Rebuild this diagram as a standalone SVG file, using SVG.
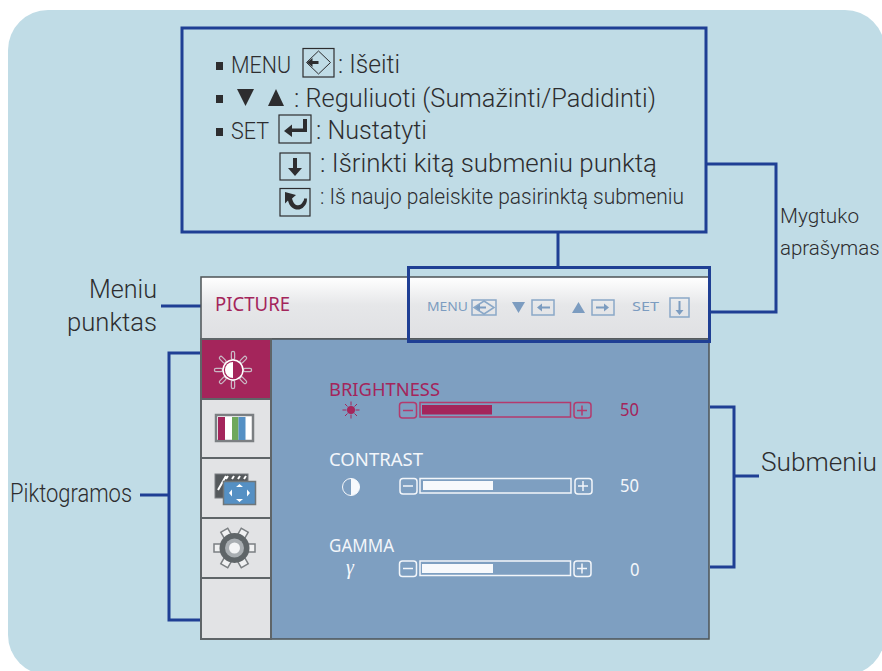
<svg xmlns="http://www.w3.org/2000/svg" width="882" height="671" viewBox="0 0 882 671">
<style>
text{font-family:Roboto,"Liberation Sans",Arial,sans-serif;font-weight:300}
.osdt{font-family:"Noto Sans","DejaVu Sans",sans-serif;font-weight:400}
.ink{fill:#2d2d2f}
.lb{fill:none;stroke:#1f3f94;stroke-width:3}
.key{fill:none;stroke:#2d2d2f;stroke-width:1.2}
.cell{fill:#e2e3e5;stroke:#5f6568;stroke-width:2}
.w{fill:#f7f9fc}.r{fill:#a4255b}
.ws{stroke:#f3f6fa;fill:none;stroke-width:1.5}
.rs{stroke:#b43a6d;fill:none;stroke-width:1.5}
.bk{fill:none;stroke:#8aa8c8;stroke-width:1.500}
</style>
<defs>
<linearGradient id="hd" x1="0" y1="0" x2="0" y2="1"><stop offset="0" stop-color="#ffffff"/><stop offset=".45" stop-color="#e6e7e9"/><stop offset="1" stop-color="#dfe0e3"/></linearGradient>
</defs>
<rect width="882" height="671" fill="#fff"/>
<rect id="panel" x="8" y="10" width="877" height="665" rx="40" fill="#c0dce6"/>
<g id="connectors" class="lb">
<path d="M558 233V268"/>
<path d="M707 164H776V312H709"/>
<path d="M161 306H201"/>
<path d="M200 353H169V620H200"/>
<path d="M140 495H169"/>
<path d="M710 407H734V567H710"/>
<path d="M734 476H759"/>
</g>
<g id="osd">
<rect x="201" y="277" width="508" height="62" fill="url(#hd)" stroke="#4e5356" stroke-width="1.5"/>
<rect x="271" y="339" width="438" height="300" fill="#7e9fc1" stroke="#4e5356" stroke-width="1.5"/>
<text class="osdt" x="215" y="311" font-size="19" fill="#a4255b" textLength="75" lengthAdjust="spacingAndGlyphs">PICTURE</text>
</g>
<g id="osd-buttons" fill="#7c9cc0" stroke="none">
<text class="osdt" x="427" y="311" font-size="12.500" textLength="41" lengthAdjust="spacingAndGlyphs">MENU</text>
<rect class="bk" x="472" y="300" width="24" height="15"/>
<path class="bk" d="M484 301l10 6.500-10 6.500-10-6.500z"/>
<path d="M475 307.500l5-3.500v2.500h6v2h-6v2.500z"/>
<path d="M512 302h13l-6.500 11z"/>
<rect class="bk" x="532" y="300" width="22" height="15"/>
<path d="M537 307.500l5-4v3h8v2h-8v3z"/>
<path d="M572 313h13l-6.500-11z"/>
<rect class="bk" x="592" y="300" width="22" height="15"/>
<path d="M609 307.500l-5-4v3h-8v2h8v3z"/>
<text class="osdt" x="632" y="311" font-size="12.500" textLength="27" lengthAdjust="spacingAndGlyphs">SET</text>
<rect class="bk" x="670" y="298" width="19" height="19"/>
<path d="M679.500 315l-4-5h3v-9h2v9h3z"/>
</g>
<rect id="button-frame" class="lb" x="408.500" y="267.500" width="301" height="74"/>
<g id="tab-brightness">
<rect x="201" y="339" width="70" height="60" fill="#a4255b" stroke="#5f6568" stroke-width="2"/>
<path d="M233 353v5M233 382v5M216 370h5M245 370h5M221 358l3.500 3.500M241.500 378.500l3.500 3.500M245 358l-3.500 3.500M224.500 378.500l-3.500 3.500" fill="none" stroke="#c9b8c4" stroke-width="4.500" stroke-linecap="round"/>
<path d="M233 353v5M233 382v5M216 370h5M245 370h5M221 358l3.500 3.500M241.500 378.500l3.500 3.500M245 358l-3.500 3.500M224.500 378.500l-3.500 3.500" fill="none" stroke="#a4255b" stroke-width="2" stroke-linecap="round"/>
<circle cx="233" cy="370" r="10" fill="#a4255b" stroke="#fff" stroke-width="1.500"/>
<path d="M233 362a8 8 0 0 0 0 16z" fill="#fff"/>
</g>
<g id="tab-color">
<rect class="cell" x="201" y="399" width="70" height="59"/>
<rect x="216" y="415" width="37" height="26" fill="#fff" stroke="#7b7f82" stroke-width="2.500"/>
<rect x="218" y="417" width="7" height="23" fill="#a4255b"/>
<rect x="232" y="417" width="6.500" height="23" fill="#6fa85c"/>
<rect x="238.500" y="417" width="7" height="23" fill="#5590c4"/>
</g>
<g id="tab-size">
<rect class="cell" x="201" y="458" width="70" height="60"/>
<rect x="215" y="474" width="33" height="24" fill="#55595c" stroke="#7b7f82"/>
<path d="M218 490l8-14M226 479l2-3M232 479l2-3M238 479l2-3M244 479l2-3" stroke="#fff" stroke-width="2" fill="none"/>
<rect x="223.500" y="481.500" width="32" height="23" fill="#5590c4" stroke="#6f7679" stroke-width="1.500"/>
<path d="M239.500 484l3.500 3h-7zM239.500 502l3.500-3h-7zM229 493l3-3.500v7zM250 493l-3-3.500v7z" fill="#fff"/>
</g>
<g id="tab-gear">
<rect class="cell" x="201" y="518" width="70" height="60"/>
<g fill="#f0f1f2" stroke="#7b7f82" stroke-width="1.500">
<rect x="214" y="544" width="41" height="8"/>
<rect x="214" y="544" width="41" height="8" transform="rotate(60 234.500 548)"/>
<rect x="214" y="544" width="41" height="8" transform="rotate(120 234.500 548)"/>
</g>
<circle cx="234.500" cy="548" r="15" fill="#5f6568"/>
<circle cx="234.500" cy="548" r="9.500" fill="#a9aeb2"/>
<circle cx="234.500" cy="548" r="5.500" fill="#f4f5f6"/>
</g>
<rect id="tab-empty" class="cell" x="201" y="578" width="70" height="61"/>
<g id="row-brightness">
<text class="osdt" x="329" y="396" font-size="18.500" fill="#a4255b" textLength="111" lengthAdjust="spacingAndGlyphs">BRIGHTNESS</text>
<circle cx="351" cy="410" r="4" class="r"/>
<path d="M351 401.500v4M351 414.500v4M342.500 410h4M355.500 410h4M345 404l2.500 2.500M354.500 413.500l2.500 2.500M357 404l-2.500 2.500M347.500 413.500l-2.500 2.500" stroke="#a4255b" fill="none"/>
<rect class="rs" x="399.500" y="402.500" width="17" height="15.500" rx="3"/>
<path class="rs" d="M403 410.500h10"/>
<rect class="rs" x="420" y="402.500" width="150.500" height="14.500"/>
<rect class="r" x="422" y="405" width="70" height="9.500"/>
<rect class="rs" x="574" y="402.500" width="17" height="15.500" rx="3"/>
<path class="rs" d="M577 410.500h10M582 405.500v10"/>
<text class="osdt" x="620" y="416" font-size="18" fill="#a4255b" textLength="19" lengthAdjust="spacingAndGlyphs">50</text>
</g>
<g id="row-contrast">
<text class="osdt" x="329" y="466" font-size="18.500" fill="#f3f6fa" textLength="94" lengthAdjust="spacingAndGlyphs">CONTRAST</text>
<circle cx="351" cy="487" r="8.500" fill="none" stroke="#f7f9fc"/>
<path d="M351 478.500a8.500 8.500 0 0 1 0 17z" class="w"/>
<rect class="ws" x="400" y="478.500" width="17" height="15.500" rx="3"/>
<path class="ws" d="M403 486h10"/>
<rect class="ws" x="420" y="478.500" width="151" height="14.500"/>
<rect class="w" x="423" y="481" width="70" height="9"/>
<rect class="ws" x="575" y="478.500" width="17" height="15.500" rx="3"/>
<path class="ws" d="M578 486h10M583 481v10"/>
<text class="osdt" x="620" y="492" font-size="18" fill="#f3f6fa" textLength="19" lengthAdjust="spacingAndGlyphs">50</text>
</g>
<g id="row-gamma">
<text class="osdt" x="329" y="552" font-size="18.500" fill="#f3f6fa" textLength="65" lengthAdjust="spacingAndGlyphs">GAMMA</text>
<text x="346" y="574" font-size="20" font-style="italic" style="font-family:'Liberation Serif',serif;font-weight:400" fill="#f7f9fc">γ</text>
<rect class="ws" x="399.500" y="561" width="17" height="15.500" rx="3"/>
<path class="ws" d="M403 568.500h10"/>
<rect class="ws" x="420" y="561" width="150.500" height="14.500"/>
<rect class="w" x="422" y="564" width="71" height="9"/>
<rect class="ws" x="574" y="561" width="17" height="15.500" rx="3"/>
<path class="ws" d="M577 568.500h10M582 563.500v10"/>
<text class="osdt" x="630" y="576" font-size="18" fill="#f3f6fa" textLength="9.500" lengthAdjust="spacingAndGlyphs">0</text>
</g>
<g id="legend">
<rect class="lb" x="182" y="28" width="524" height="204"/>
<g class="ink">
<rect x="216" y="62" width="7" height="8"/>
<text x="231" y="73" font-size="23" textLength="60" lengthAdjust="spacingAndGlyphs">MENU</text>
<text x="338" y="73" font-size="25" textLength="62" lengthAdjust="spacingAndGlyphs">: Išeiti</text>
<rect x="216" y="95" width="7" height="8"/>
<path d="M237 89h17l-8.500 17zM268 106h16l-8-17z"/>
<text x="294" y="107" font-size="25" textLength="362" lengthAdjust="spacingAndGlyphs">: Reguliuoti (Sumažinti/Padidinti)</text>
<rect x="216" y="128" width="7" height="8"/>
<text x="231" y="139" font-size="23" textLength="38" lengthAdjust="spacingAndGlyphs">SET</text>
<text x="316" y="139" font-size="25" textLength="111" lengthAdjust="spacingAndGlyphs">: Nustatyti</text>
<text x="320" y="172" font-size="25" textLength="337" lengthAdjust="spacingAndGlyphs">: Išrinkti kitą submeniu punktą</text>
<text x="320" y="204" font-size="22" textLength="364" lengthAdjust="spacingAndGlyphs">: Iš naujo paleiskite pasirinktą submeniu</text>
</g>
<rect class="key" x="303" y="48.500" width="31" height="28.500"/>
<path d="M318.500 51l12 11.500-12 11.500-12-11.500z" fill="none" stroke="#2d2d2f"/>
<path d="M307 62.500l5.500-4.500v3h6v3h-6v3z" fill="#2d2d2f"/>
<rect class="key" x="279" y="115" width="32" height="28"/>
<path d="M284 131l8-6.500v4h11v-9.500h4v13h-15v5z" fill="#2d2d2f"/>
<rect class="key" x="280" y="153" width="30" height="27"/>
<path d="M295 176l-7-8h5v-10h4v10h5z" fill="#2d2d2f"/>
<rect class="key" x="280" y="188.500" width="30" height="27.500"/>
<path d="M285 192l11 3-4 3.500c2 8 8 9 11 3 1-1 1-2 1-3h3c0 4-1 6-3 8-5 6-14 3-16-6l-3 3z" fill="#2d2d2f"/>
</g>
<g id="labels" class="ink">
<text x="780" y="223" font-size="20.500" textLength="79" lengthAdjust="spacingAndGlyphs">Mygtuko</text>
<text x="780" y="255" font-size="20.500">aprašymas</text>
<text x="89" y="298" font-size="25" textLength="68" lengthAdjust="spacingAndGlyphs">Meniu</text>
<text x="67" y="331" font-size="25" textLength="90" lengthAdjust="spacingAndGlyphs">punktas</text>
<text x="10" y="502" font-size="25" textLength="122" lengthAdjust="spacingAndGlyphs">Piktogramos</text>
<text x="761" y="471" font-size="25" textLength="116" lengthAdjust="spacingAndGlyphs">Submeniu</text>
</g>
</svg>
